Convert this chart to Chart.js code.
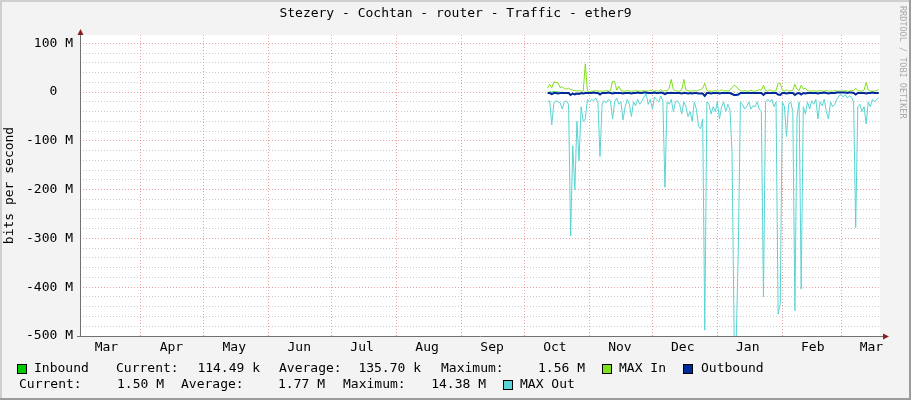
<!DOCTYPE html>
<html>
<head>
<meta charset="utf-8">
<script src="https://cdn.jsdelivr.net/npm/chart.js@4.4.1/dist/chart.umd.min.js"></script>
<style>
  html, body { margin: 0; padding: 0; background: #f3f3f3; }
  canvas { display: block; }
</style>
</head>
<body>
<canvas id="chart" width="911" height="400"></canvas>
<script>
// days counted from Mar 1 of the first year
const monthLabels = ['Mar', 'Apr', 'May', 'Jun', 'Jul', 'Aug', 'Sep', 'Oct', 'Nov', 'Dec', 'Jan', 'Feb', 'Mar'];
const monthLabelDays = [14.5, 45.5, 75.5, 106.5, 136.5, 167.5, 198.5, 228.5, 259.5, 289.5, 320.5, 351.5, 379.5];
const monthStartDays = [31, 61, 92, 122, 153, 184, 214, 245, 275, 306, 337, 365];

const yTickValues = [100, 0, -100, -200, -300, -400, -500];
const yTickLabels = ['100 M', '0\u00a0\u00a0', '-100 M', '-200 M', '-300 M', '-400 M', '-500 M'];

// one sample per day, starting on day 225 (mid October), values in M bits/s
const firstSampleDay = 225;

const inbound = [
  0.4, 1.2, 0.5, 1.5, 1.3, 1.1, 0.4, 0.6, 0.3, 0.3,
  0.3, 0.2, 0.2, 0.1, 0.1, 0.2, 0.1, 0.1, 0.8, 0.1,
  0.1, 0.1, 0.1, 0.2, 0.1, 0.1, 0.1, 0.1, 0.1, 0.1,
  0.2, 0.9, 0.9, 0.2, 0.4, 0.1, 0.1, 0.1, 0.1, 0.1,
  0.1, 0.1, 0.1, 0.1, 0.1, 0.1, 0.1, 0.1, 0.1, 0.2,
  0.1, 0.1, 0.1, 0.1, 0.2, 0.1, 0.1, 0.1, 0.3, 0.9,
  0.2, 0.1, 0.1, 0.1, 0.1, 0.8, 0.2, 0.1, 0.1, 0.1,
  0.1, 0.1, 0.1, 0.2, 0.3, 0.6, 0.1, 0.1, 0.1, 0.1,
  0.1, 0.1, 0.1, 0.2, 0.1, 0.1, 0.1, 0.1, 0.3, 0.5,
  0.4, 0.2, 0.1, 0.1, 0.1, 0.1, 0.1, 0.1, 0.1, 0.1,
  0.1, 0.2, 0.1, 0.5, 0.1, 0.1, 0.2, 0.1, 0.1, 0.1,
  0.6, 0.6, 0.1, 0.1, 0.2, 0.1, 0.1, 0.1, 0.5, 0.2,
  0.1, 0.5, 0.2, 0.3, 0.1, 0.1, 0.1, 0.1, 0.1, 0.1,
  0.1, 0.1, 0.1, 0.1, 0.1, 0.1, 0.1, 0.1, 0.1, 0.1,
  0.1, 0.1, 0.1, 0.1, 0.1, 0.1, 0.1, 0.3, 0.1, 0.1,
  0.1, 0.1, 0.7, 0.1, 0.1, 0.1, 0.1, 0.1, 0.1
];

const maxIn = [
  8, 16, 9, 21, 20, 19, 9, 11, 7, 6,
  8, 5, 4, 3, 2, 3, 2, 2, 58, 2,
  1, 2, 2, 3, 2, 2, 2, 2, 3, 2,
  3, 22, 22, 4, 12, 3, 2, 2, 3, 2,
  2, 2, 3, 2, 2, 2, 3, 2, 2, 4,
  2, 2, 3, 2, 5, 2, 3, 2, 8, 26,
  5, 3, 2, 2, 4, 26, 4, 3, 2, 2,
  3, 2, 4, 5, 8, 18, 3, 2, 2, 2,
  3, 2, 2, 5, 2, 3, 2, 4, 9, 14,
  12, 6, 3, 2, 3, 2, 2, 4, 2, 2,
  3, 5, 4, 14, 3, 2, 5, 2, 2, 3,
  18, 18, 4, 2, 5, 2, 3, 4, 16, 6,
  3, 14, 6, 8, 3, 2, 2, 3, 2, 2,
  3, 2, 2, 3, 2, 2, 2, 3, 2, 2,
  2, 2, 3, 2, 2, 4, 3, 8, 3, 2,
  2, 4, 20, 4, 2, 2, 2, 3, 5
];

const outbound = [
  -2, -2, -4, -2, -2, -3, -2, -2, -2, -2,
  -2, -6, -3, -5, -3, -4, -2, -3, -2, -2,
  -2, -2, -1, -2, -2, -5, -2, -2, -2, -1,
  -2, -3, -2, -2, -2, -2, -3, -2, -2, -2,
  -3, -2, -2, -1, -2, -2, -1, -1, -2, -2,
  -2, -1, -2, -2, -1, -2, -4, -2, -2, -2,
  -2, -2, -2, -2, -3, -2, -2, -3, -2, -3,
  -2, -2, -3, -3, -3, -8, -2, -2, -3, -2,
  -2, -2, -3, -2, -2, -2, -2, -2, -4, -6,
  -6, -5, -2, -2, -2, -2, -2, -2, -2, -2,
  -2, -2, -2, -6, -2, -2, -2, -2, -2, -2,
  -5, -6, -2, -2, -3, -2, -2, -2, -6, -3,
  -2, -5, -2, -3, -2, -2, -2, -2, -2, -3,
  -2, -2, -1, -2, -3, -2, -2, -2, -1, -1,
  -1, -1, -1, -2, -1, -1, -2, -5, -2, -2,
  -2, -2, -3, -2, -2, -1, -2, -2, -2
];

const maxOut = [
  -20, -18, -67, -22, -18, -20, -22, -35, -20, -18,
  -25, -295, -110, -200, -60, -141, -30, -60, -55, -15,
  -20, -15, -18, -12, -20, -132, -25, -18, -22, -15,
  -18, -55, -20, -12, -25, -20, -57, -30, -15, -25,
  -50, -20, -28, -15, -25, -18, -10, -3, -25, -15,
  -35, -10, -15, -20, -8, -18, -195, -20, -25, -15,
  -40, -20, -18, -25, -45, -20, -30, -50, -40, -60,
  -20, -35, -70, -75, -55, -488, -20, -25, -45, -30,
  -40, -20, -55, -30, -20, -40, -25, -35, -122, -500,
  -510, -320, -20, -25, -35, -30, -20, -35, -28, -30,
  -20, -35, -40, -420, -20, -15, -20, -15, -30, -20,
  -455, -435, -20, -30, -91, -25, -20, -40, -448, -50,
  -20, -404, -30, -45, -20, -35, -18, -25, -15, -55,
  -20, -28, -15, -40, -55, -20, -30, -25, -15, -8,
  -5, -10, -5, -12, -8, -10, -20, -278, -30, -25,
  -40, -30, -65, -20, -30, -15, -20, -15, -12
];

const inboundStats = ['114.49 k', '135.70 k', '1.56 M'];
const outboundStats = ['1.50 M', '1.77 M', '14.38 M'];

const title = 'Stezery - Cochtan - router - Traffic - ether9';
const watermark = 'RRDTOOL / TOBI OETIKER';

const colors = {
  inbound: '#00cc00',
  maxIn: '#7fe01c',
  outbound: '#002a97',
  maxOut: '#5ad4d4'
};

const FONT = "'DejaVu Sans Mono', monospace";
const majorGrid = 'rgba(225, 110, 110, 0.65)';
const minorGrid = 'rgba(170, 170, 170, 0.6)';
const axisColor = '#707070';

const points = (arr) => arr.map((v, i) => ({ x: firstSampleDay + i, y: v }));

const rrdFrame = {
  id: 'rrdFrame',
  beforeDraw(chart) {
    const { ctx, chartArea: a, width, height } = chart;
    ctx.save();
    ctx.fillStyle = '#f3f3f3';
    ctx.fillRect(0, 0, width, height);
    // 3d border
    ctx.fillStyle = '#cfcfcf';
    ctx.fillRect(0, 0, width, 2);
    ctx.fillRect(0, 0, 2, height);
    ctx.fillStyle = '#9c9c9c';
    ctx.fillRect(width - 2, 0, 2, height);
    ctx.fillRect(0, height - 2, width, 2);
    ctx.fillStyle = '#ffffff';
    ctx.fillRect(a.left, a.top, a.right - a.left, a.bottom - a.top);
    ctx.restore();
  },
  afterDraw(chart) {
    const { ctx, chartArea: a, width } = chart;
    ctx.save();

    // axes with arrows
    ctx.strokeStyle = axisColor;
    ctx.lineWidth = 1;
    ctx.setLineDash([]);
    ctx.beginPath();
    ctx.moveTo(a.left + 0.5, a.bottom + 0.5);
    ctx.lineTo(a.left + 0.5, a.top - 3);
    ctx.moveTo(a.left - 3, a.bottom + 0.5);
    ctx.lineTo(a.right + 4, a.bottom + 0.5);
    ctx.stroke();
    ctx.fillStyle = '#8b1e1e';
    ctx.beginPath();
    ctx.moveTo(a.left + 0.5, a.top - 6);
    ctx.lineTo(a.left - 2.5, a.top);
    ctx.lineTo(a.left + 3.5, a.top);
    ctx.closePath();
    ctx.fill();
    ctx.beginPath();
    ctx.moveTo(a.right + 9, a.bottom + 0.5);
    ctx.lineTo(a.right + 3, a.bottom - 2.5);
    ctx.lineTo(a.right + 3, a.bottom + 3.5);
    ctx.closePath();
    ctx.fill();

    // title
    ctx.fillStyle = '#000';
    ctx.font = '13px ' + FONT;
    ctx.textAlign = 'center';
    ctx.textBaseline = 'middle';
    ctx.fillText(title, width / 2, 14);

    // watermark
    ctx.save();
    ctx.translate(width - 9, 6);
    ctx.rotate(Math.PI / 2);
    ctx.fillStyle = '#a9a9a9';
    ctx.font = '8.5px ' + FONT;
    ctx.textAlign = 'left';
    ctx.textBaseline = 'middle';
    ctx.fillText(watermark, 0, 0);
    ctx.restore();

    // legend
    const box = (x, y, c) => {
      ctx.fillStyle = c;
      ctx.fillRect(x, y, 10, 10);
      ctx.strokeStyle = '#000';
      ctx.strokeRect(x + 0.5, y + 0.5, 9, 9);
    };
    const text = (s, x, y, align) => {
      ctx.fillStyle = '#000';
      ctx.textAlign = align || 'left';
      ctx.fillText(s, x, y);
    };
    ctx.font = '13px ' + FONT;
    ctx.textBaseline = 'middle';
    const y1 = 369, y2 = 385;
    box(17, 364, colors.inbound);
    text('Inbound', 34, y1);
    text('Current:', 116, y1);
    text(inboundStats[0], 260, y1, 'right');
    text('Average:', 279, y1);
    text(inboundStats[1], 421, y1, 'right');
    text('Maximum:', 441, y1);
    text(inboundStats[2], 585, y1, 'right');
    box(602, 364, colors.maxIn);
    text('MAX In', 619, y1);
    box(683, 364, colors.outbound);
    text('Outbound', 701, y1);

    text('Current:', 19, y2);
    text(outboundStats[0], 164, y2, 'right');
    text('Average:', 181, y2);
    text(outboundStats[1], 325, y2, 'right');
    text('Maximum:', 343, y2);
    text(outboundStats[2], 486, y2, 'right');
    box(503, 380, colors.maxOut);
    text('MAX Out', 520, y2);

    ctx.restore();
  }
};

Chart.defaults.font.family = FONT;
Chart.defaults.color = '#000';

new Chart(document.getElementById('chart'), {
  type: 'line',
  data: {
    datasets: [
      { label: 'Inbound', data: points(inbound), borderWidth: 0, borderColor: colors.inbound,
        backgroundColor: colors.inbound, fill: 'origin', order: 3 },
      { label: 'MAX In', data: points(maxIn), borderColor: colors.maxIn, borderWidth: 1, fill: false, order: 1 },
      { label: 'Outbound', data: points(outbound), borderColor: colors.outbound, borderWidth: 2, fill: false, order: 0 },
      { label: 'MAX Out', data: points(maxOut), borderColor: colors.maxOut, borderWidth: 1, fill: false, order: 2 }
    ]
  },
  options: {
    responsive: false,
    animation: false,
    devicePixelRatio: 1,
    layout: { padding: { top: 35, right: 31, left: 0, bottom: 0 } },
    elements: { point: { radius: 0 }, line: { tension: 0 } },
    plugins: { legend: { display: false }, tooltip: { enabled: false } },
    scales: {
      x: {
        type: 'linear',
        min: 1.9,
        max: 383.6,
        afterFit: (s) => { s.height = 64; },
        afterBuildTicks: (s) => {
          s.ticks = monthStartDays.concat(monthLabelDays)
            .sort((p, q) => p - q)
            .map(v => ({ value: v }));
        },
        ticks: {
          autoSkip: false,
          maxRotation: 0,
          padding: 4,
          font: { size: 13 },
          callback: (v) => {
            const i = monthLabelDays.indexOf(v);
            return i >= 0 ? monthLabels[i] : '';
          }
        },
        grid: {
          drawTicks: false,
          lineWidth: 1,
          color: (c) => (c.tick && monthStartDays.includes(c.tick.value)) ? majorGrid : 'rgba(0,0,0,0)'
        },
        border: { display: false, dash: [1, 2] }
      },
      y: {
        min: -500,
        max: 117,
        afterFit: (s) => { s.width = 80; },
        afterBuildTicks: (s) => { s.ticks = s.ticks.filter(t => t.value <= 100); },
        ticks: {
          stepSize: 20,
          includeBounds: false,
          autoSkip: false,
          padding: 7,
          font: { size: 13 },
          callback: (v) => {
            const i = yTickValues.indexOf(v);
            return i >= 0 ? yTickLabels[i] : '';
          }
        },
        grid: {
          drawTicks: false,
          lineWidth: 1,
          color: (c) => (c.tick && yTickValues.includes(c.tick.value)) ? majorGrid : minorGrid
        },
        border: { display: false, dash: [1, 2] },
        title: {
          display: true,
          text: 'bits per second',
          font: { size: 13 },
          padding: { top: 2, bottom: 0 }
        }
      }
    }
  },
  plugins: [rrdFrame]
});
</script>
</body>
</html>
